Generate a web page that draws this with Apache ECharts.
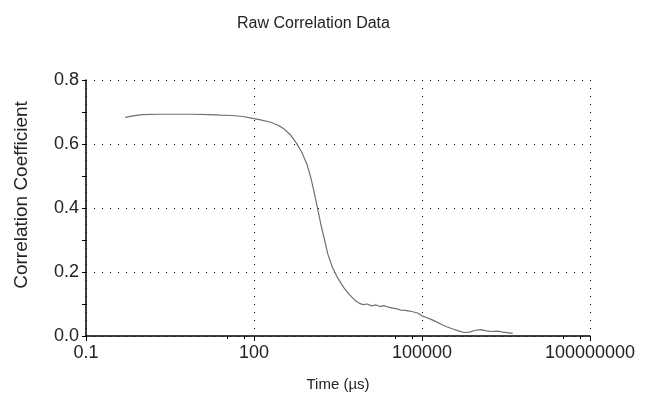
<!DOCTYPE html>
<html>
<head>
<meta charset="utf-8">
<script src="https://cdn.jsdelivr.net/npm/echarts@6/dist/echarts.min.js"></script>
<style>
  html, body { margin: 0; padding: 0; background: #fff; }
  #chart { width: 647px; height: 415px; }
</style>
</head>
<body>
<div id="chart"></div>
<script>
// time in microseconds
var times = [0.5, 0.7, 1, 2, 4, 8, 16, 25, 40, 63, 90, 125, 200, 280, 355, 450, 560, 710, 890,
  1050, 1200, 1380, 1580, 1820, 2090, 2510, 3160, 3980, 5010, 6310, 7590, 8910,
  10500, 12600, 15100, 17800, 20900, 25100, 30200, 35500, 41700, 50100, 60300, 70800, 83200,
  100000, 120000, 145000, 178000, 224000, 282000, 355000, 447000, 562000, 708000, 891000,
  1120000, 1410000, 1780000, 2240000, 2820000, 3550000, 4170000];
var coeffs = [0.683, 0.688, 0.692, 0.693, 0.693, 0.693, 0.692, 0.690, 0.689, 0.686, 0.681, 0.676, 0.668, 0.657, 0.645, 0.628, 0.605, 0.575, 0.535,
  0.490, 0.445, 0.395, 0.345, 0.300, 0.255, 0.215, 0.180, 0.152, 0.130, 0.112, 0.102, 0.098,
  0.100, 0.094, 0.097, 0.092, 0.095, 0.090, 0.087, 0.085, 0.081, 0.080, 0.078, 0.075, 0.072,
  0.063, 0.058, 0.052, 0.045, 0.036, 0.028, 0.022, 0.016, 0.011, 0.012, 0.018,
  0.020, 0.016, 0.014, 0.015, 0.012, 0.010, 0.008];

var chart = echarts.init(document.getElementById('chart'));
var font = 'Liberation Sans, Arial, sans-serif';
var dotted = { color: '#000', type: [1, 7], width: 1 };

var option = {
  animation: false,
  title: {
    text: 'Raw Correlation Data',
    left: 232,
    top: 11,
    textStyle: { fontFamily: font, fontSize: 16, fontWeight: 'normal', color: '#222' }
  },
  grid: { left: 86, right: 57, top: 80, bottom: 79 },
  xAxis: [{
    type: 'log',
    logBase: 10,
    min: 0.1,
    max: 100000000,
    interval: 3,
    name: 'Time (\u00b5s)',
    nameLocation: 'middle',
    nameGap: 41,
    nameTextStyle: { fontFamily: font, fontSize: 15, color: '#222' },
    axisLine: { lineStyle: { color: '#000', width: 1.5 } },
    axisTick: { show: true, length: 5, lineStyle: { color: '#000' } },
    minorTick: { show: true, splitNumber: 3, length: 3, lineStyle: { color: '#000' } },
    axisLabel: {
      fontFamily: font, fontSize: 18, color: '#222', margin: 8,
      formatter: function (v) { return v < 1 ? String(Number(v.toPrecision(1))) : String(Math.round(v)); }
    },
    splitLine: { show: true, lineStyle: dotted }
  }],
  yAxis: [{
    type: 'value',
    min: 0,
    max: 0.8,
    interval: 0.2,
    name: 'Correlation Coefficient',
    nameLocation: 'middle',
    nameGap: 55,
    nameTextStyle: { fontFamily: font, fontSize: 19, color: '#222', padding: [0, 0, 0, 26] },
    axisLine: { show: true, lineStyle: { color: '#000', width: 1.5 } },
    axisTick: { show: true, length: 4, lineStyle: { color: '#000' } },
    minorTick: { show: true, splitNumber: 2, length: 4, lineStyle: { color: '#000' } },
    axisLabel: {
      fontFamily: font, fontSize: 18, color: '#222', margin: 7,
      formatter: function (v) { return v.toFixed(1); }
    },
    splitLine: { show: true, lineStyle: dotted }
  }],
  series: [{
    type: 'line',
    data: times.map(function (t, i) { return [t, coeffs[i]]; }),
    showSymbol: false,
    lineStyle: { color: '#707070', width: 1.2 }
  }]
};
chart.setOption(option);
</script>
</body>
</html>
